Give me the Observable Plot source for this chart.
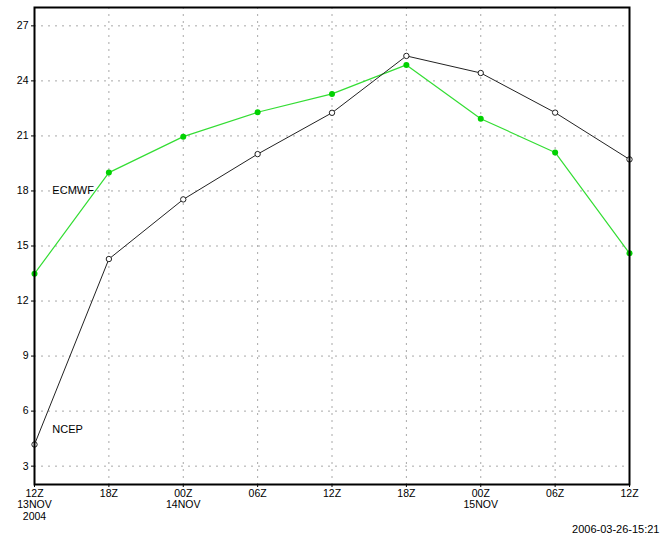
<!DOCTYPE html>
<html>
<head>
<meta charset="utf-8">
<script src="https://cdn.jsdelivr.net/npm/d3@7"></script>
<script src="https://cdn.jsdelivr.net/npm/@observablehq/plot@0.6"></script>
<style>
  html, body { margin: 0; padding: 0; background: white; }
</style>
</head>
<body>
<div id="chart"></div>
<script>
// Time steps (6-hourly, 12Z 13NOV2004 .. 12Z 15NOV2004)
const hours = ["12Z", "18Z", "00Z", "06Z", "12Z", "18Z", "00Z", "06Z", "12Z"];
const dates = ["13NOV\n2004", "", "14NOV", "", "", "", "15NOV", "", ""];
// Series values
const ncep  = [4.18, 14.29, 17.54, 20.01, 22.26, 25.36, 24.43, 22.27, 19.72];
const ecmwf = [13.49, 19.0, 20.96, 22.29, 23.29, 24.87, 21.94, 20.1, 14.6];
// Y tick values
const yTicks = [3, 6, 9, 12, 15, 18, 21, 24, 27];
// Series label anchors (data space)
const labelNames = ["ECMWF", "NCEP"];
const labelX = [0.24, 0.24];
const labelY = [18, 5];
const stamp = "2006-03-26-15:21";

const idx = d3.range(hours.length);
const ncepRows = idx.map(i => ({i, v: ncep[i]}));
const ecRows = idx.map(i => ({i, v: ecmwf[i]}));
const labels = labelNames.map((name, k) => ({name, x: labelX[k], y: labelY[k]}));

const gridStyle = {stroke: "#a8a8a8", strokeOpacity: 1, strokeDasharray: "2,5", strokeWidth: 1};

const chart = Plot.plot({
  width: 662,
  height: 536,
  marginLeft: 34,
  marginRight: 33,
  marginTop: 7,
  marginBottom: 52,
  style: {fontFamily: "'Liberation Sans', Arial, sans-serif", fontSize: "10.5px", background: "white", color: "black"},
  x: {domain: [0, 8]},
  y: {domain: [2, 28]},
  marks: [
    Plot.gridY(yTicks, gridStyle),
    Plot.gridX(idx.slice(1, -1), gridStyle),
    Plot.axisY(yTicks, {tickSize: 3, tickPadding: 3, tickFormat: d => String(d), label: null}),
    Plot.axisX(idx, {tickSize: 3, tickPadding: 1, lineHeight: 1.1, tickFormat: i => dates[i] ? hours[i] + "\n" + dates[i] : hours[i], label: null}),
    Plot.line(ecRows, {x: "i", y: "v", stroke: "#33dd33", strokeWidth: 1.2}),
    Plot.line(ncepRows, {x: "i", y: "v", stroke: "#222", strokeWidth: 1}),
    Plot.dot(ecRows, {x: "i", y: "v", r: 3, fill: "#00d200", stroke: "none"}),
    Plot.dot(ncepRows, {x: "i", y: "v", r: 2.7, fill: "white", stroke: "#222", strokeWidth: 1}),
    Plot.text(labels, {x: "x", y: "y", text: "name", textAnchor: "start", fontSize: 11, fill: "black"}),
    Plot.frame({stroke: "black", strokeWidth: 2}),
    Plot.text([stamp], {frameAnchor: "bottom-right", textAnchor: "end", lineAnchor: "bottom", dx: 30, dy: 48, fontSize: 11, fill: "black"})
  ]
});
document.getElementById("chart").appendChild(chart);
</script>
</body>
</html>
